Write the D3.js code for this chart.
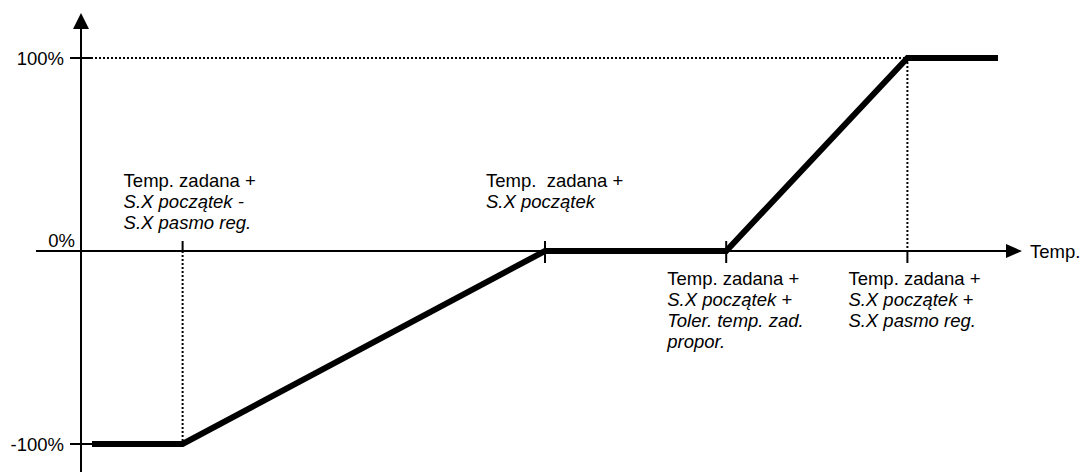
<!DOCTYPE html>
<meta charset="utf-8">
<style>
body { margin: 0; background: #fff; }
svg text {
  font-family: "Liberation Sans", Arial, sans-serif;
  font-size: 18.5px;
  fill: #000;
  white-space: pre;
}
.it { font-style: italic; }
.axis { stroke: #000; stroke-width: 2; fill: none; }
.dot { stroke: #000; stroke-width: 2; stroke-dasharray: 2,2; fill: none; }
.curve { stroke: #000; stroke-width: 6; fill: none; stroke-linejoin: miter; }
</style>
<svg width="1082" height="472"></svg>

<script src="https://d3js.org/d3.v7.min.js"></script>
<script>

// charakterystyka: temperatura (jednostki umowne) -> wyjście %
var tempPts = [-0.5, 0, 2, 3, 4, 4.5];
var outPts = [-100, -100, 0, 0, 100, 100];

var yTicks = [100, 0, -100];
var yTickLabels = ["100%", "0%", "-100%"];

// punkty charakterystyczne na osi X i ich opisy
var xMarks = [0, 2, 3, 4];
var xMarkLabels = [
  ["Temp. zadana +", "S.X początek -", "S.X pasmo reg."],
  ["Temp.  zadana +", "S.X początek"],
  ["Temp. zadana +", "S.X początek +", "Toler. temp. zad.", "propor."],
  ["Temp. zadana +", "S.X początek +", "S.X pasmo reg."]
];
var labelAbove = [true, true, false, false];

var svg = d3.select("svg");

var x = d3.scaleLinear().domain([-0.5, 4.5]).range([92, 998]);
var y = d3.scaleLinear().domain([-100, 100]).range([444, 58]);

var x0 = 81, y0 = y(0);

// linie kropkowane
svg.append("line").attr("class", "dot")
    .attr("x1", x0 + 10).attr("x2", x(4)).attr("y1", y(100)).attr("y2", y(100));
svg.append("line").attr("class", "dot")
    .attr("x1", x(4)).attr("x2", x(4)).attr("y1", y(100)).attr("y2", y0);
svg.append("line").attr("class", "dot")
    .attr("x1", x(0)).attr("x2", x(0)).attr("y1", y0).attr("y2", y(-100));

// oś Y
svg.append("line").attr("class", "axis")
    .attr("x1", x0).attr("x2", x0).attr("y1", 26).attr("y2", 472);
svg.append("path")
    .attr("d", "M" + x0 + ",13 L" + (x0 - 8) + ",29 L" + (x0 + 8) + ",29 Z")
    .attr("fill", "#000");

// oś X
svg.append("line").attr("class", "axis")
    .attr("x1", 36).attr("x2", 1009).attr("y1", y0).attr("y2", y0);
svg.append("path")
    .attr("d", "M1022," + y0 + " L1006," + (y0 - 7) + " L1006," + (y0 + 7) + " Z")
    .attr("fill", "#000");
svg.append("text").attr("x", 1030).attr("y", y0 + 6.5).text("Temp.");

// podziałka Y
yTicks.forEach(function(v, i) {
  if (v !== 0) {
    svg.append("line").attr("class", "axis")
        .attr("x1", x0 - 11).attr("x2", x0 + 11).attr("y1", y(v)).attr("y2", y(v));
    svg.append("text").attr("x", x0 - 17).attr("y", y(v) + 6.5)
        .attr("text-anchor", "end").text(yTickLabels[i]);
  } else {
    svg.append("text").attr("x", x0 - 6).attr("y", y(v) - 4.5)
        .attr("text-anchor", "end").text(yTickLabels[i]);
  }
});

// podziałka X
xMarks.forEach(function(v, i) {
  var top = (i === 3) ? y0 : y0 - 10;
  var bot = (i === 0) ? y0 : y0 + 12;
  svg.append("line").attr("class", "axis").attr("stroke-width", 1.5)
      .attr("x1", x(v)).attr("x2", x(v)).attr("y1", top).attr("y2", bot);

  var lines = xMarkLabels[i];
  var base = labelAbove[i] ? y0 - 64 : y0 + 34;
  var t = svg.append("text").attr("x", x(v) - 59).attr("y", base);
  lines.forEach(function(s, k) {
    t.append("tspan")
        .attr("x", x(v) - 59)
        .attr("dy", k === 0 ? 0 : 21)
        .attr("class", k === 0 ? null : "it")
        .text(s);
  });
});

// charakterystyka
var line = d3.line()
    .x(function(d, i) { return x(tempPts[i]); })
    .y(function(d) { return y(d); });

svg.append("path").attr("class", "curve").attr("d", line(outPts));

</script>
